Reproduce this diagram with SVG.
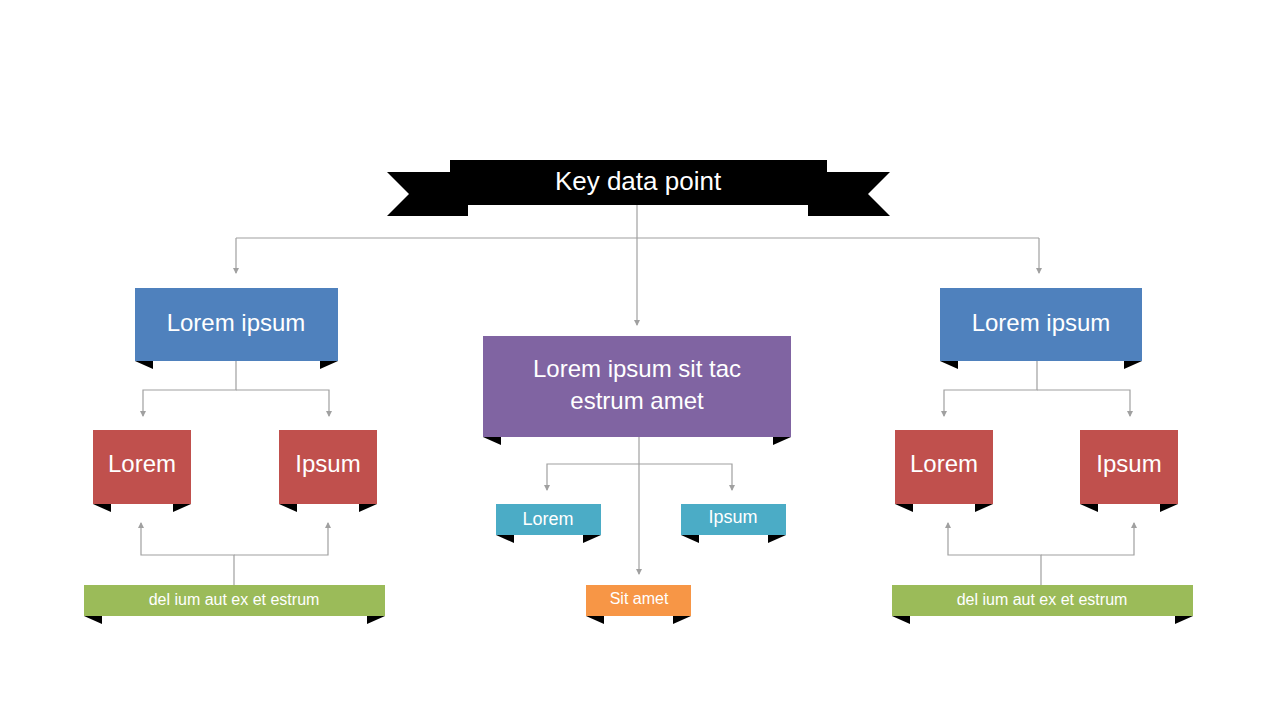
<svg xmlns="http://www.w3.org/2000/svg" width="1280" height="720" viewBox="0 0 1280 720">
<defs>
<marker id="ah" markerWidth="6" markerHeight="6" refX="5" refY="3" orient="auto" markerUnits="userSpaceOnUse"><path d="M0,0 L6,3 L0,6 z" fill="#a0a0a0"/></marker>
<style>
.c{fill:none;stroke:#a0a0a0;stroke-width:1.2}
.a{marker-end:url(#ah)}
.t{font-family:"Liberation Sans",Arial,sans-serif;fill:#fff;text-anchor:middle}
.f{fill:#000}
</style>
</defs>
<rect width="1280" height="720" fill="#fff"/>
<g id="connectors">
<path class="c a" d="M637,205 V325"/>
<path class="c a" d="M236,238 H1039 M236,238 V273"/>
<path class="c a" d="M1039,238 V273"/>
<path class="c a" d="M236,361 V390 H143 V416"/>
<path class="c a" d="M236,390 H329 V416"/>
<path class="c a" d="M234,585 V555 H141 V523"/>
<path class="c a" d="M234,555 H328 V523"/>
<path class="c a" d="M639,437 V574"/>
<path class="c a" d="M639,464 H547 V490"/>
<path class="c a" d="M639,464 H732 V490"/>
<path class="c a" d="M1037,361 V390 H944 V416"/>
<path class="c a" d="M1037,390 H1130 V416"/>
<path class="c a" d="M1041,585 V555 H948 V523"/>
<path class="c a" d="M1041,555 H1134 V523"/>
</g>
<g id="key">
<polygon class="f" points="387,172 468,172 468,216 387,216 409,194"/>
<polygon class="f" points="890,172 808,172 808,216 890,216 868,194"/>
<rect x="450" y="160" width="377" height="45" fill="#000"/>
<text class="t" x="638" y="190" font-size="26">Key data point</text>
</g>
<g id="blueL"><rect x="135" y="288" width="203" height="73" fill="#4f81bd"/><polygon class="f" points="135,361 153,361 153,369"/><polygon class="f" points="320,361 338,361 320,369"/><text class="t" x="236" y="331" font-size="24">Lorem ipsum</text></g>
<g id="blueR"><rect x="940" y="288" width="202" height="73" fill="#4f81bd"/><polygon class="f" points="940,361 958,361 958,369"/><polygon class="f" points="1124,361 1142,361 1124,369"/><text class="t" x="1041" y="331" font-size="24">Lorem ipsum</text></g>
<g id="purple"><rect x="483" y="336" width="308" height="101" fill="#8064a2"/><polygon class="f" points="483,437 501,437 501,445"/><polygon class="f" points="773,437 791,437 773,445"/><text class="t" x="637" y="377" font-size="24">Lorem ipsum sit tac</text><text class="t" x="637" y="409" font-size="24">estrum amet</text></g>
<g id="red1"><rect x="93" y="430" width="98" height="74" fill="#c0504d"/><polygon class="f" points="93,504 111,504 111,512"/><polygon class="f" points="173,504 191,504 173,512"/><text class="t" x="142" y="472" font-size="24">Lorem</text></g>
<g id="red2"><rect x="279" y="430" width="98" height="74" fill="#c0504d"/><polygon class="f" points="279,504 297,504 297,512"/><polygon class="f" points="359,504 377,504 359,512"/><text class="t" x="328" y="472" font-size="24">Ipsum</text></g>
<g id="red3"><rect x="895" y="430" width="98" height="74" fill="#c0504d"/><polygon class="f" points="895,504 913,504 913,512"/><polygon class="f" points="975,504 993,504 975,512"/><text class="t" x="944" y="472" font-size="24">Lorem</text></g>
<g id="red4"><rect x="1080" y="430" width="98" height="74" fill="#c0504d"/><polygon class="f" points="1080,504 1098,504 1098,512"/><polygon class="f" points="1160,504 1178,504 1160,512"/><text class="t" x="1129" y="472" font-size="24">Ipsum</text></g>
<g id="cyan1"><rect x="496" y="504" width="105" height="31" fill="#4bacc6"/><polygon class="f" points="496,535 514,535 514,543"/><polygon class="f" points="583,535 601,535 583,543"/><text class="t" x="548" y="525" font-size="18">Lorem</text></g>
<g id="cyan2"><rect x="681" y="504" width="105" height="31" fill="#4bacc6"/><polygon class="f" points="681,535 699,535 699,543"/><polygon class="f" points="768,535 786,535 768,543"/><text class="t" x="733" y="523" font-size="18">Ipsum</text></g>
<g id="orange"><rect x="586" y="585" width="105" height="31" fill="#f79646"/><polygon class="f" points="586,616 604,616 604,624"/><polygon class="f" points="673,616 691,616 673,624"/><text class="t" x="639" y="604" font-size="16">Sit amet</text></g>
<g id="greenL"><rect x="84" y="585" width="301" height="31" fill="#9bbb59"/><polygon class="f" points="84,616 102,616 102,624"/><polygon class="f" points="367,616 385,616 367,624"/><text class="t" x="234" y="605" font-size="16">del ium aut ex et estrum</text></g>
<g id="greenR"><rect x="892" y="585" width="301" height="31" fill="#9bbb59"/><polygon class="f" points="892,616 910,616 910,624"/><polygon class="f" points="1175,616 1193,616 1175,624"/><text class="t" x="1042" y="605" font-size="16">del ium aut ex et estrum</text></g>
</svg>
